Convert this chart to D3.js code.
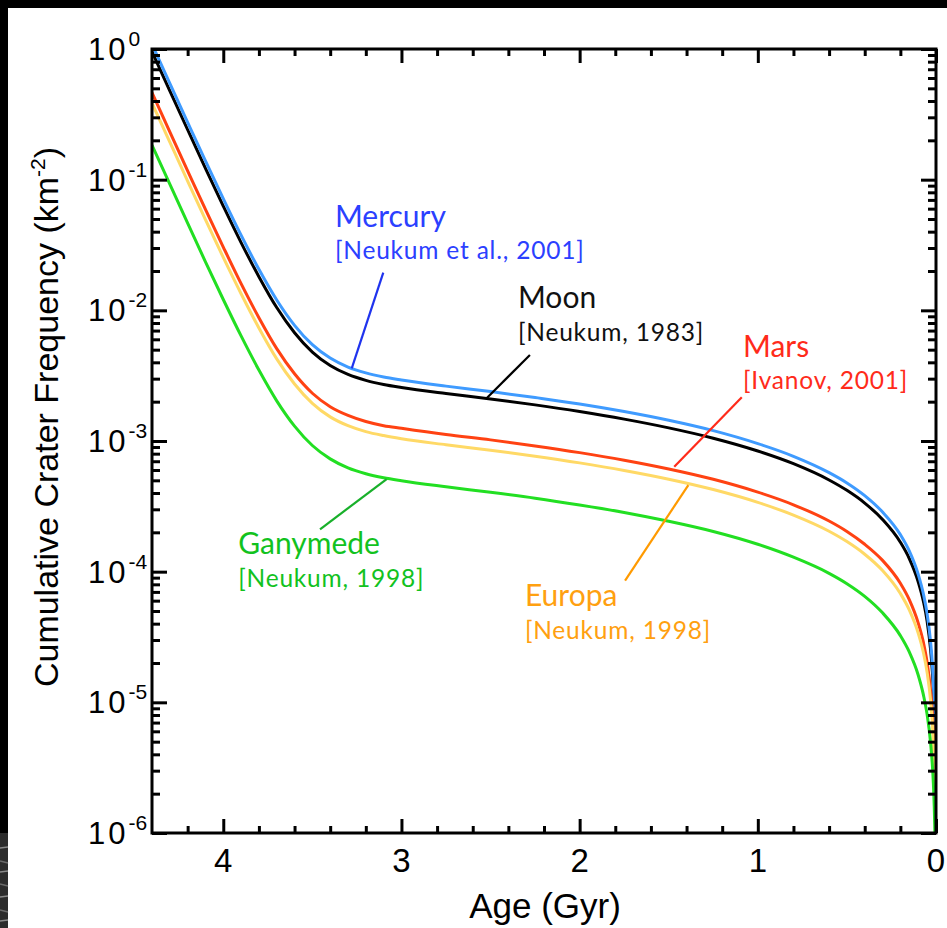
<!DOCTYPE html>
<html>
<head>
<meta charset="utf-8">
<script src="https://cdn.jsdelivr.net/npm/d3@7"></script>
<style>
  html, body { margin: 0; padding: 0; background: #fff; }
  svg { display: block; }
</style>
</head>
<body>
<svg id="chart" width="947" height="928"></svg>
<script>
// Surface age (Gyr) shared by all chronology curves
const ages = [4.4, 4.3, 4.2, 4.1, 4.0, 3.9, 3.8, 3.7, 3.6, 3.5, 3.4, 3.3, 3.2, 3.1, 3.0,
  2.75, 2.5, 2.25, 2.0, 1.75, 1.5, 1.25, 1.0, 0.8, 0.6, 0.5, 0.4, 0.3, 0.2, 0.15, 0.1,
  0.07, 0.05, 0.03, 0.02, 0.015, 0.01, 0.007, 0.005, 0.003, 0.002, 0.001];

// Cumulative crater frequency N(D>1 km), km^-2
const moon = [0.954, 0.479, 0.241, 0.122, 0.0628, 0.0330, 0.0181, 0.0105, 0.00674, 0.00479,
  0.00378, 0.00323, 0.00291, 0.00271, 0.00257, 0.00231, 0.00210, 0.00189, 0.00168, 0.00147,
  0.00126, 0.00105, 0.000838, 0.000670, 0.000503, 0.000419, 0.000335, 0.000251, 0.000168,
  0.000126, 8.38e-5, 5.87e-5, 4.19e-5, 2.51e-5, 1.68e-5, 1.26e-5, 8.38e-6, 5.87e-6, 4.19e-6,
  2.51e-6, 1.68e-6, 8.4e-7];
const mercury = [1.088, 0.546, 0.275, 0.139, 0.0716, 0.0376, 0.0206, 0.0120, 0.00768, 0.00546,
  0.00431, 0.00368, 0.00332, 0.00309, 0.00293, 0.00263, 0.00239, 0.00215, 0.00192, 0.00168,
  0.00144, 0.00120, 0.000955, 0.000764, 0.000573, 0.000478, 0.000382, 0.000286, 0.000192,
  0.000144, 9.55e-5, 6.69e-5, 4.78e-5, 2.86e-5, 1.92e-5, 1.44e-5, 9.55e-6, 6.69e-6, 4.78e-6,
  2.86e-6, 1.92e-6, 9.6e-7];
const mars = [0.463, 0.232, 0.117, 0.0592, 0.0305, 0.0160, 0.00878, 0.00509, 0.00327, 0.00232,
  0.00183, 0.00157, 0.00141, 0.00131, 0.00125, 0.00112, 0.00102, 0.000917, 0.000815, 0.000713,
  0.000611, 0.000509, 0.000406, 0.000325, 0.000244, 0.000203, 0.000162, 0.000122, 8.15e-5,
  6.11e-5, 4.06e-5, 2.85e-5, 2.03e-5, 1.22e-5, 8.15e-6, 6.11e-6, 4.06e-6, 2.85e-6, 2.03e-6,
  1.22e-6, 8.1e-7, 4.1e-7];
const europa = [0.386, 0.194, 0.0976, 0.0494, 0.0254, 0.0134, 0.00733, 0.00425, 0.00273, 0.00194,
  0.00153, 0.00131, 0.00118, 0.00110, 0.00104, 0.000936, 0.000851, 0.000765, 0.000680, 0.000595,
  0.000510, 0.000425, 0.000339, 0.000271, 0.000204, 0.000170, 0.000136, 0.000102, 6.80e-5,
  5.10e-5, 3.39e-5, 2.38e-5, 1.70e-5, 1.02e-5, 6.8e-6, 5.1e-6, 3.39e-6, 2.38e-6, 1.70e-6,
  1.02e-6, 6.8e-7, 3.4e-7];
const ganymede = [0.184, 0.0924, 0.0465, 0.0235, 0.0121, 0.00637, 0.00349, 0.00203, 0.00130, 0.000924,
  0.000730, 0.000623, 0.000562, 0.000523, 0.000496, 0.000446, 0.000405, 0.000365, 0.000324, 0.000284,
  0.000243, 0.000203, 0.000162, 0.000129, 9.71e-5, 8.09e-5, 6.47e-5, 4.84e-5, 3.24e-5,
  2.43e-5, 1.62e-5, 1.13e-5, 8.09e-6, 4.84e-6, 3.24e-6, 2.43e-6, 1.62e-6, 1.13e-6, 8.1e-7,
  4.8e-7, 3.2e-7, 1.6e-7];

// Axis ticks
const xMajorTicks = [4, 3, 2, 1, 0];
const xMinorTicks = [4.2, 3.8, 3.6, 3.4, 3.2, 2.8, 2.6, 2.4, 2.2, 1.8, 1.6, 1.4, 1.2, 0.8, 0.6, 0.4, 0.2];
const yExponents = [0, -1, -2, -3, -4, -5, -6];

// Series styling and annotations (label anchor / leader line in data coordinates)
const series = [
  { name: "Moon", values: moon, color: "#000000" },
  { name: "Mercury", values: mercury, color: "#3f9bff" },
  { name: "Mars", values: mars, color: "#ff4212" },
  { name: "Europa", values: europa, color: "#ffd966" },
  { name: "Ganymede", values: ganymede, color: "#22df22" }
];

const annotations = [
  { title: "Mercury", ref: "[Neukum et al., 2001]", color: "#2b40ff", lineColor: "#1f33ee",
    at: [3.373, -1.362], line: [[3.102, -1.712], [3.279, -2.444]] },
  { title: "Moon", ref: "[Neukum, 1983]", color: "#111111", lineColor: "#000000",
    at: [2.346, -1.984], line: [[2.279, -2.342], [2.522, -2.673]] },
  { title: "Mars", ref: "[Ivanov, 2001]", color: "#ff2b1a", lineColor: "#ff2b1a",
    at: [1.083, -2.357], line: [[1.090, -2.666], [1.469, -3.197]] },
  { title: "Europa", ref: "[Neukum, 1998]", color: "#ffa010", lineColor: "#ff9a00",
    at: [2.307, -4.263], line: [[1.745, -4.069], [1.390, -3.337]] },
  { title: "Ganymede", ref: "[Neukum, 1998]", color: "#12c21e", lineColor: "#18b02a",
    at: [3.916, -3.865], line: [[3.457, -3.676], [3.083, -3.291]] }
];

const svg = d3.select("#chart");
const W = 947, H = 928;
const tickFont = "'Liberation Sans', Arial, Helvetica, sans-serif";
const labelFont = "Lato, 'Noto Sans', sans-serif";

// Page background and dark border strips
svg.append("rect").attr("width", W).attr("height", H).attr("fill", "#ffffff");
svg.append("rect").attr("x", 0).attr("y", 0).attr("width", W).attr("height", 8).attr("fill", "#000");
svg.append("rect").attr("x", 0).attr("y", 0).attr("width", 8).attr("height", 833).attr("fill", "#000");
svg.append("rect").attr("x", 0).attr("y", 833).attr("width", 8).attr("height", H - 833).attr("fill", "#2c2c2c");
[848, 861, 872, 884, 897, 910, 921].forEach((yy, i) => {
  svg.append("line").attr("x1", 0).attr("x2", 8).attr("y1", yy).attr("y2", yy + (i % 2 ? 2 : -1))
    .attr("stroke", i % 2 ? "#6a6a6a" : "#8a8a8a").attr("stroke-width", 1.5);
});

const x = d3.scaleLinear().domain([4.4, 0]).range([152, 936]);
const y = d3.scaleLog().domain([1e-6, 1]).range([833, 49]);
const [x0, x1] = x.range();
const [yB, yT] = y.range();

// Clip curves to the plotting frame
svg.append("defs").append("clipPath").attr("id", "plotClip")
  .append("rect").attr("x", x0).attr("y", yT).attr("width", x1 - x0).attr("height", yB - yT);

const line = d3.line()
  .x(d => x(d[0]))
  .y(d => y(d[1]))
  .curve(d3.curveMonotoneX);

const curves = svg.append("g").attr("clip-path", "url(#plotClip)");
series.forEach(s => {
  curves.append("path")
    .datum(ages.map((a, i) => [a, s.values[i]]))
    .attr("d", line)
    .attr("fill", "none")
    .attr("stroke", s.color)
    .attr("stroke-width", 3)
    .attr("stroke-linejoin", "round");
});

// Minor log ticks for the y axis
const yMinorTicks = [];
for (let e = -6; e < 0; e++) for (let m = 2; m <= 9; m++) yMinorTicks.push(m * Math.pow(10, e));
const yMajorTicks = yExponents.map(e => Math.pow(10, e));

function styleAxis(g) {
  g.select(".domain").remove();
  g.selectAll(".tick line").attr("stroke", "#000").attr("stroke-width", 3);
  g.selectAll(".tick text").remove();
}

// Bottom / top axes (ticks pointing inward)
svg.append("g").attr("transform", `translate(0,${yB})`)
  .call(d3.axisBottom(x).tickValues(xMinorTicks).tickSize(-7)).call(styleAxis);
svg.append("g").attr("transform", `translate(0,${yB})`)
  .call(d3.axisBottom(x).tickValues(xMajorTicks).tickSize(-14)).call(styleAxis);
svg.append("g").attr("transform", `translate(0,${yT})`)
  .call(d3.axisTop(x).tickValues(xMinorTicks).tickSize(-7)).call(styleAxis);
svg.append("g").attr("transform", `translate(0,${yT})`)
  .call(d3.axisTop(x).tickValues(xMajorTicks).tickSize(-14)).call(styleAxis);

// Left / right axes
svg.append("g").attr("transform", `translate(${x0},0)`)
  .call(d3.axisLeft(y).tickValues(yMinorTicks).tickSize(-8)).call(styleAxis);
svg.append("g").attr("transform", `translate(${x0},0)`)
  .call(d3.axisLeft(y).tickValues(yMajorTicks).tickSize(-15)).call(styleAxis);
svg.append("g").attr("transform", `translate(${x1},0)`)
  .call(d3.axisRight(y).tickValues(yMinorTicks).tickSize(-8)).call(styleAxis);
svg.append("g").attr("transform", `translate(${x1},0)`)
  .call(d3.axisRight(y).tickValues(yMajorTicks).tickSize(-15)).call(styleAxis);

// Frame
svg.append("rect")
  .attr("x", x0).attr("y", yT).attr("width", x1 - x0).attr("height", yB - yT)
  .attr("fill", "none").attr("stroke", "#000").attr("stroke-width", 3);

// X tick labels
svg.append("g").selectAll("text").data(xMajorTicks).join("text")
  .attr("x", d => x(d)).attr("y", yB + 39)
  .attr("text-anchor", "middle")
  .attr("font-family", tickFont).attr("font-size", 33).attr("fill", "#000")
  .text(d => d3.format("d")(d));

// Y tick labels: 10 with superscript exponent
const yl = svg.append("g").selectAll("text").data(yExponents).join("text")
  .attr("x", 88).attr("y", d => y(Math.pow(10, d)) + 11)
  .attr("font-family", tickFont).attr("font-size", 31).attr("fill", "#000");
yl.append("tspan").attr("letter-spacing", 3).text("10");
yl.append("tspan").attr("dy", -14).attr("font-size", 21).text(d => d === 0 ? "0" : "-" + Math.abs(d));

// Axis titles
svg.append("text")
  .attr("x", 545).attr("y", 918)
  .attr("text-anchor", "middle")
  .attr("font-family", tickFont).attr("font-size", 35).attr("fill", "#000")
  .text("Age (Gyr)");

const yt = svg.append("text")
  .attr("transform", `translate(58,${(yT + yB) / 2 - 24}) rotate(-90)`)
  .attr("text-anchor", "middle")
  .attr("font-family", tickFont).attr("font-size", 34).attr("fill", "#000");
yt.append("tspan").text("Cumulative Crater Frequency (km");
yt.append("tspan").attr("dy", -13).attr("font-size", 21).text("-2");
yt.append("tspan").attr("dy", 13).text(")");

// Annotations: name with citation underneath, plus a leader line to the curve
const ann = svg.append("g");
annotations.forEach(a => {
  const p = v => [x(v[0]), y(Math.pow(10, v[1]))];
  const [l0, l1] = a.line.map(p);
  ann.append("line").attr("x1", l0[0]).attr("y1", l0[1]).attr("x2", l1[0]).attr("y2", l1[1])
    .attr("stroke", a.lineColor).attr("stroke-width", 2.2);
  const t = p(a.at);
  const label = ann.append("text").attr("x", t[0]).attr("y", t[1])
    .attr("font-family", labelFont).attr("fill", a.color);
  label.append("tspan").attr("font-size", 30).text(a.title);
  label.append("tspan").attr("x", t[0]).attr("dy", 32.5).attr("font-size", 24.5)
    .attr("letter-spacing", 0.8).text(a.ref);
});
</script>
</body>
</html>
